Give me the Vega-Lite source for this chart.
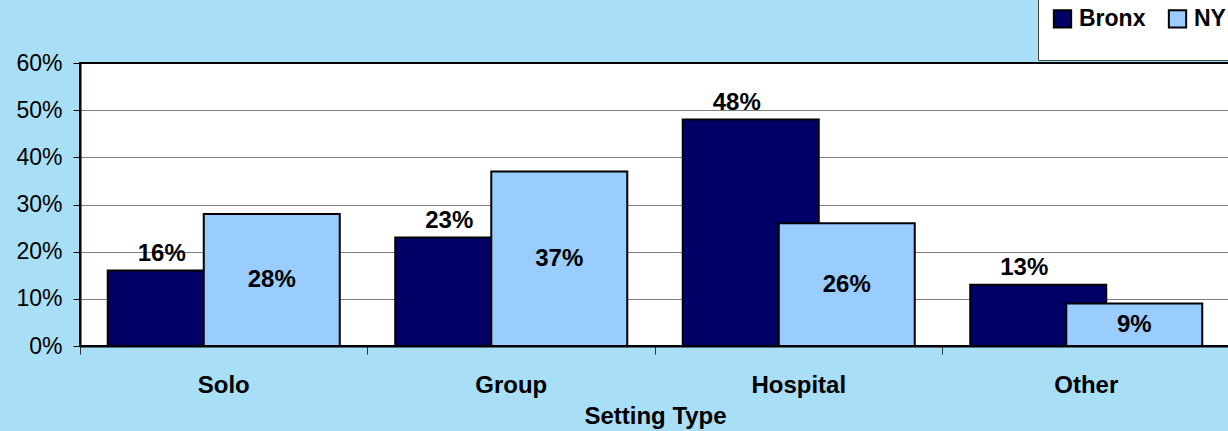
{
  "$schema": "https://vega.github.io/schema/vega-lite/v6.json",
  "autosize": "none",
  "width": 1150,
  "height": 283,
  "padding": {"left": 80, "top": 63, "right": 0, "bottom": 85},
  "background": "#A9DEF7",
  "config": {
    "font": "Liberation Sans",
    "view": {"fill": "white", "stroke": "black", "strokeWidth": 2}
  },
  "data": {
    "values": [
      {"setting": "Solo", "area": "Bronx", "value": 0.16},
      {"setting": "Group", "area": "Bronx", "value": 0.23},
      {"setting": "Hospital", "area": "Bronx", "value": 0.48},
      {"setting": "Other", "area": "Bronx", "value": 0.13},
      {"setting": "Solo", "area": "NY", "value": 0.28},
      {"setting": "Group", "area": "NY", "value": 0.37},
      {"setting": "Hospital", "area": "NY", "value": 0.26},
      {"setting": "Other", "area": "NY", "value": 0.09}
    ]
  },
  "encoding": {
    "x": {
      "field": "setting",
      "type": "nominal",
      "sort": ["Solo", "Group", "Hospital", "Other"],
      "scale": {"paddingInner": 0, "paddingOuter": 0},
      "title": "Setting Type",
      "axis": {
        "labelAngle": 0,
        "labelFontSize": 24,
        "labelFontWeight": "bold",
        "labelColor": "black",
        "bandPosition": 0,
        "ticks": true,
        "tickSize": 8,
        "tickColor": "#333",
        "tickWidth": 1,
        "domainColor": "black",
        "domainWidth": 2,
        "labelPadding": 19,
        "titleFontSize": 24,
        "titleFontWeight": "bold",
        "titleColor": "black",
        "titlePadding": 7,
        "grid": false
      }
    },
    "xOffset": {
      "field": "area",
      "type": "nominal",
      "sort": ["Bronx", "NY"],
      "scale": {"paddingInner": 0, "paddingOuter": 0.497}
    }
  },
  "layer": [
    {
      "mark": {"type": "bar", "width": 136, "stroke": "black", "strokeWidth": 2},
      "encoding": {
        "y": {
          "field": "value",
          "type": "quantitative",
          "stack": null,
          "scale": {"domain": [0, 0.6]},
          "title": null,
          "axis": {
            "values": [0, 0.1, 0.2, 0.3, 0.4, 0.5, 0.6],
            "format": ".0%",
            "labelFontSize": 23,
            "labelColor": "black",
            "labelPadding": 11,
            "tickSize": 7,
            "tickColor": "black",
            "domainColor": "black",
            "domainWidth": 2,
            "grid": true,
            "gridColor": "#808080",
            "gridOpacity": {"condition": {"test": "datum.value >= 0.59", "value": 0}, "value": 1}
          }
        },
        "color": {
          "field": "area",
          "type": "nominal",
          "scale": {"domain": ["Bronx", "NY"], "range": ["#000066", "#99CCFF"]},
          "legend": {
            "orient": "none",
            "legendX": 958,
            "legendY": -69,
            "direction": "horizontal",
            "fillColor": "white",
            "strokeColor": "#444",
            "padding": 13,
            "symbolType": "square",
            "symbolSize": 300,
            "symbolStrokeColor": "black",
            "symbolStrokeWidth": 2,
            "symbolOpacity": 1,
            "labelFontSize": 23,
            "labelFontWeight": "bold",
            "labelColor": "black",
            "labelOffset": 5,
            "columnPadding": 18,
            "title": " ",
            "titleOrient": "bottom",
            "titleFontSize": 4,
            "titlePadding": 11
          }
        }
      }
    },
    {
      "transform": [{"filter": "datum.area == 'Bronx'"}],
      "mark": {"type": "text", "baseline": "alphabetic", "dy": -10, "dx": -14, "fontSize": 24, "fontWeight": "bold", "color": "black"},
      "encoding": {
        "y": {"field": "value", "type": "quantitative"},
        "text": {"field": "value", "type": "quantitative", "format": ".0%"}
      }
    },
    {
      "transform": [{"filter": "datum.area == 'NY'"}, {"calculate": "datum.value / 2", "as": "mid"}],
      "mark": {"type": "text", "baseline": "middle", "fontSize": 24, "fontWeight": "bold", "color": "black"},
      "encoding": {
        "y": {"field": "mid", "type": "quantitative"},
        "text": {"field": "value", "type": "quantitative", "format": ".0%"}
      }
    }
  ]
}
